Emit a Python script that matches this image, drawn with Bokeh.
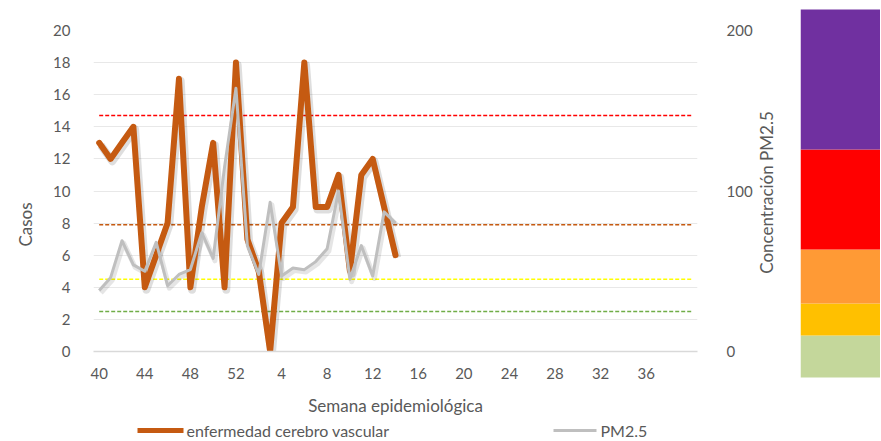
import math
from bokeh.plotting import figure
from bokeh.models import Range1d, LinearAxis, FixedTicker, ColumnDataSource
from bokeh.layouts import row, column
from bokeh.transform import dodge
from bokeh.embed import file_html
from bokeh.resources import INLINE
from bokeh.core.properties import value

# ---------------- data ----------------
weeks = list(range(40, 53)) + list(range(1, 41))          # 53 epidemiological weeks
casos = [13, 12, 13, 14, 4, 6, 8, 17, 4, 9, 13, 4, 18, 7, 5, 0, 8, 9, 18, 9, 9, 11, 5, 11, 12, 9, 6]
pm25 = [38, 46, 69, 54, 50, 68, 41, 48, 51, 74, 58, 115, 164, 66, 48, 93, 47, 52, 51, 56, 64, 100, 45, 66, 47, 87, 80]
pm_thresholds = [147, 79, 45, 25]
tick_weeks = [40, 44, 48, 52, 4, 8, 12, 16, 20, 24, 28, 32, 36]
left_ticks = [0, 2, 4, 6, 8, 10, 12, 14, 16, 18, 20]
right_ticks = [0, 100, 200]
band_edges = [0, 42, 74, 128, 228, 368]   # colour scale image bands (bottom to top)
series_names = ["enfermedad cerebro vascular", "PM2.5"]

# ---------------- styles ----------------
FONT = "Lato"
TXT = "#595959"
ORANGE = "#C55A11"
GRAY = "#BFBFBF"
threshold_colors = ["#FF0000", "#C55A11", "#FFFF00", "#70AD47"]
band_colors = ["#C4D79B", "#FFC000", "#FF9A35", "#FF0000", "#7030A0"]
H = 418          # height of the chart row
LH = 22          # height of the legend strip


def bare(fig):
    fig.xgrid.visible = False
    fig.ygrid.visible = False
    fig.outline_line_color = None
    fig.background_fill_color = "white"
    fig.border_fill_color = "white"
    fig.frame_align = False


def strip(w, h):
    f = figure(width=w, height=h, output_backend="svg", toolbar_location=None,
               x_range=Range1d(0, w), y_range=Range1d(0, h), min_border=0,
               x_axis_location=None, y_axis_location=None)
    bare(f)
    return f


idx = list(range(len(weeks)))
src_c = ColumnDataSource(dict(x=idx[:len(casos)], y=casos))
src_p = ColumnDataSource(dict(x=idx[:len(pm25)], y=pm25))

# ---------------- left strip with the "Casos" title ----------------
left = strip(40, H)
left.text(x=[25], y=[H - 224], text=["Casos"], angle=math.pi / 2, text_align="center",
          text_baseline="middle", text_font=value(FONT), text_font_size="17px", text_color=TXT)

# ---------------- main chart ----------------
p = figure(width=715, height=H, output_backend="svg", toolbar_location=None,
           x_range=Range1d(-0.5, len(weeks) - 0.5), y_range=Range1d(0, 20),
           min_border_left=53, min_border_right=56, min_border_top=30, min_border_bottom=H - 353,
           y_axis_location=None, x_axis_location=None)
bare(p)
p.extra_y_ranges = {"pm": Range1d(0, 200)}
p.ygrid.visible = True
p.ygrid.ticker = FixedTicker(ticks=left_ticks)
p.ygrid.grid_line_color = "#E8E8E8"
p.ygrid.grid_line_width = 1.2

tick_idx = [i for i in range(0, 49, 4) if weeks[i] in tick_weeks]
xaxis = LinearAxis(ticker=FixedTicker(ticks=tick_idx))
xaxis.major_label_overrides = {i: str(weeks[i]) for i in tick_idx}
xaxis.axis_label = "Semana epidemiológica"
p.add_layout(xaxis, "below")

yaxis = LinearAxis(ticker=FixedTicker(ticks=left_ticks))
p.add_layout(yaxis, "left")

raxis = LinearAxis(y_range_name="pm", ticker=FixedTicker(ticks=right_ticks))
p.add_layout(raxis, "right")

for ax in (xaxis, yaxis, raxis):
    ax.major_tick_line_color = None
    ax.minor_tick_line_color = None
    ax.major_label_text_font = FONT
    ax.major_label_text_font_size = "15px"
    ax.major_label_text_color = TXT
    ax.axis_label_text_font = FONT
    ax.axis_label_text_font_size = "17px"
    ax.axis_label_text_font_style = "normal"
    ax.axis_label_text_color = TXT
yaxis.axis_line_color = None
raxis.axis_line_color = None
xaxis.axis_line_color = "#D9D9D9"
xaxis.axis_line_width = 1.5
xaxis.major_label_standoff = 10
xaxis.axis_label_standoff = 13
yaxis.major_label_standoff = 17
raxis.major_label_standoff = 23

# threshold dashed lines (PM2.5 scale), across all weeks
for thr, col in zip(pm_thresholds, threshold_colors):
    p.line([0, len(weeks) - 1], [thr, thr], y_range_name="pm", line_color=col,
           line_width=1.5, line_dash="4 2")

# soft shadows
p.line(x=dodge("x", 0.15), y=dodge("y", -1.5), source=src_p, y_range_name="pm",
       line_color="#000000", line_alpha=0.10, line_width=5, line_join="round")
p.line(x=dodge("x", 0.15), y=dodge("y", -0.15), source=src_c,
       line_color="#000000", line_alpha=0.13, line_width=8, line_join="round")

p.line("x", "y", source=src_c, line_color=ORANGE, line_width=6, line_join="round", line_cap="round")
p.line("x", "y", source=src_p, y_range_name="pm", line_color=GRAY, line_width=3, line_join="round")

# ---------------- right axis title strip ----------------
rtitle = strip(45, H)
rtitle.text(x=[11], y=[H - 192], text=["Concentración PM2.5"], angle=math.pi / 2, text_align="center",
            text_baseline="middle", text_font=value(FONT), text_font_size="17px", text_color=TXT)

# ---------------- colour scale strip at the right ----------------
bar = figure(width=80, height=H, output_backend="svg", toolbar_location=None,
             x_range=Range1d(0, 1), y_range=Range1d(-(H - 377), 377),
             min_border=0, x_axis_location=None, y_axis_location=None)
bare(bar)
bar.quad(left=0, right=1, bottom=band_edges[:-1], top=band_edges[1:], fill_color=band_colors, line_color=None)

# ---------------- legend strip at the bottom ----------------
leg = strip(880, LH)
leg.line(x=[137, 183], y=[10, 10], line_color=ORANGE, line_width=5)
leg.line(x=[553, 596], y=[10, 10], line_color=GRAY, line_width=3)
leg.text(x=[186, 600], y=[10, 10], text=series_names, text_align="left", text_baseline="middle",
         text_font=value(FONT), text_font_size="16px", text_color=TXT)

layout = column(row(left, p, rtitle, bar, spacing=0), leg, spacing=0)
open("out.html", "w").write(file_html(layout, INLINE))
